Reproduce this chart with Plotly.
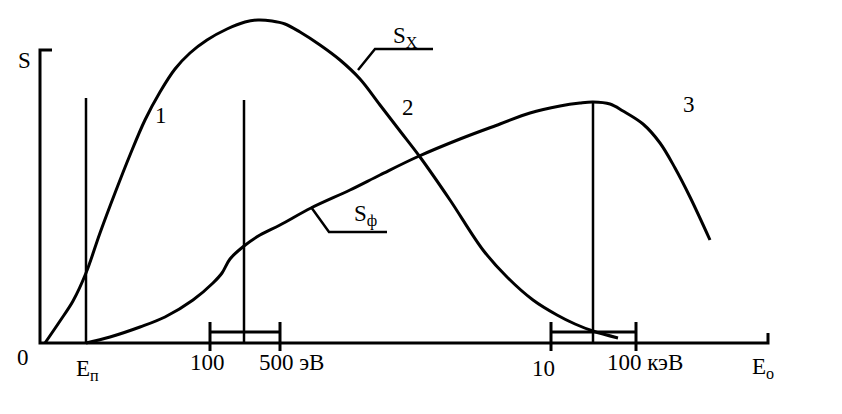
import plotly.graph_objects as go

# Curve S_x (bell shaped), in picture units (x to the right, y downward)
sx_x = [45, 60, 73, 86, 100, 115, 130, 145, 160, 175, 190, 207, 227, 245, 258, 272, 285, 300, 320, 340, 360, 380, 400, 420, 450, 483, 507, 533, 557, 575, 593, 618]
sx_y = [343, 321, 301, 273, 233, 193, 155, 120, 92, 69, 53, 40, 29, 22, 20, 21, 24, 32, 45, 60, 79, 105, 131, 157, 200, 250, 277, 300, 315, 324, 331, 338]

# Curve S_phi
sf_x = [86, 110, 140, 165, 193, 213, 222, 230, 244, 260, 280, 311, 350, 380, 417, 460, 500, 530, 560, 580, 593, 610, 623, 643, 660, 675, 690, 710]
sf_y = [343, 337, 327, 317, 300, 283, 273, 259, 246, 235, 225, 208, 190, 175, 157, 139, 124, 113, 106, 103, 102, 104, 111, 124, 143, 168, 197, 240]

# Vertical markers (x position, top)
marker_x = [86, 244, 593]
marker_top = [98, 100, 102]

# Energy range brackets (left, right)
bracket_left = [210, 551]
bracket_right = [280, 636]

# Labels: (text, left x, centre y)
labels = [
    ("S", 17, 60),
    ("0", 16, 357),
    ("E<sub>п</sub>", 75, 370),
    ("100", 189, 362),
    ("500 эВ", 258, 362),
    ("10", 531, 368),
    ("100 кэВ", 606, 362),
    ("E<sub>о</sub>", 751, 368),
    ("1", 154, 115),
    ("2", 401, 107),
    ("3", 682, 104),
    ("S<sub>X</sub>", 392, 37),
    ("S<sub>ф</sub>", 353, 215),
]

AX_X0, AX_Y0, AX_X1, AX_YTOP = 40, 343, 768, 50
PAGE_OFFSET = 8  # default body margin of the html page

fig = go.Figure()
K = "black"

def seg(xs, ys, w=3, shape="linear"):
    fig.add_trace(go.Scatter(x=xs, y=ys, mode="lines",
                             line=dict(color=K, width=w, shape=shape, smoothing=1.0),
                             hoverinfo="skip", showlegend=False))

# axes
seg([AX_X0 + 12, AX_X0, AX_X0, AX_X1, AX_X1], [AX_YTOP, AX_YTOP, AX_Y0, AX_Y0, AX_Y0 - 10], w=3)

# curves
seg(sx_x, sx_y, w=3, shape="spline")
seg(sf_x, sf_y, w=3, shape="spline")

# vertical markers
for mx, mt in zip(marker_x, marker_top):
    seg([mx, mx], [mt, AX_Y0], w=2.5)

# brackets
for bl, br in zip(bracket_left, bracket_right):
    seg([bl, br], [332, 332], w=3)
    seg([bl, bl], [322, 351], w=3)
    seg([br, br], [322, 351], w=3)

# leader lines for curve names
seg([358, 375, 433], [70, 49, 49], w=2.5)
seg([311, 329, 387], [207, 232, 232], w=2.5)

for t, x, y in labels:
    fig.add_annotation(x=x, y=y, text=t, showarrow=False,
                       font=dict(family="Liberation Serif", size=23, color=K),
                       xanchor="left", yanchor="middle", borderpad=0)

fig.update_layout(
    width=842 - PAGE_OFFSET, height=414 - PAGE_OFFSET,
    margin=dict(l=0, r=0, t=0, b=0),
    paper_bgcolor="white", plot_bgcolor="white",
    xaxis=dict(range=[PAGE_OFFSET, 842], visible=False, fixedrange=True),
    yaxis=dict(range=[414, PAGE_OFFSET], visible=False, fixedrange=True),
    showlegend=False,
)

fig.write_html("out.html", config={"displayModeBar": False})
